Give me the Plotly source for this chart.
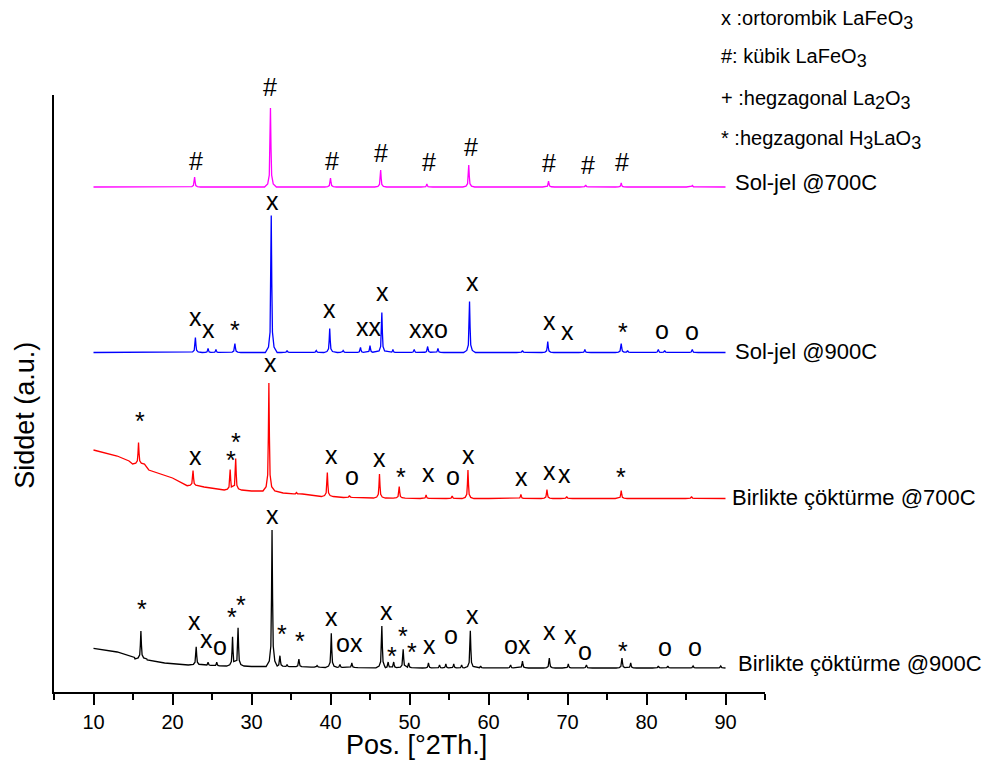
import plotly.graph_objects as go

# ---------------- data ----------------
# Peak positions [deg 2theta], local base level and peak top (relative to trace baseline)
MAG_PK_X = [22.8, 32.4, 40.0, 46.35, 52.2, 57.5, 67.6, 72.3, 76.8, 85.8]
MAG_PK_BASE = [0, 0, 0, 0, 0, 0, 0, 0, 0, 0]
MAG_PK_TOP = [10, 79, 9, 17, 3, 22, 6, 2, 4, 1.5]
MAG_BG_X = [10, 90]
MAG_BG_Y = [0, 0]

BLU_PK_X = [22.9, 24.5, 25.5, 27.9, 32.5, 34.5, 38.2, 39.9, 41.6, 43.8, 45.0, 46.5, 47.9,
            50.6, 52.3, 53.6, 57.6, 64.3, 67.5, 72.2, 76.8, 77.6, 81.5, 82.3, 85.8]
BLU_PK_BASE = [0] * 25
BLU_PK_TOP = [15, 4, 3, 9, 137, 2, 2, 24, 2, 5, 7, 40, 3,
              3, 6, 4, 51, 2, 11, 3, 9, 2, 3, 2, 3]
BLU_BG_X = [10, 90]
BLU_BG_Y = [0, 0]

RED_PK_X = [15.7, 22.6, 27.3, 28.0, 32.2, 35.7, 39.6, 42.4, 46.2, 48.7, 52.1, 55.4, 57.4,
            64.1, 67.4, 69.9, 76.8, 85.7]
RED_PK_BASE = [34.5, 12.8, 8.5, 8.5, 7.5, 4.5, 2, 1, 0.5, 0.3, 0, 0, 0,
               0, 0, 0, 0, 0]
RED_PK_TOP = [56, 28, 29, 40, 115.5, 6, 26, 3, 24.5, 12, 3.5, 2.5, 28.5,
              4, 9, 2, 8, 2]
RED_BG_X = [10, 13, 14.5, 17.0, 20, 24, 27, 30, 34, 40, 46, 60, 90]
RED_BG_Y = [48.5, 42.5, 37.5, 28.5, 20.5, 11.5, 8.5, 7.5, 5.5, 2, 0.5, 0, 0]

BLK_PK_X = [16.0, 23.0, 24.5, 25.6, 27.6, 28.3, 32.6, 33.6, 34.5, 36.0, 38.3, 40.1, 41.2,
            42.7, 46.5, 47.3, 48.0, 49.2, 49.9, 52.4, 53.8, 54.6, 55.6, 56.6, 57.7, 59.0,
            62.8, 64.3, 67.7, 70.1, 72.4, 76.9, 78.0, 81.5, 82.7, 85.9, 89.4]
BLK_PK_BASE = [9, 3, 2.5, 2, 2, 2, 1.5, 1.5, 1.3, 1, 0.8, 0.5, 0.5,
               0.4, 0.2, 0.2, 0.2, 0.1, 0.1, 0, 0, 0, 0, 0, 0, 0,
               0, 0, 0, 0, 0, 0, 0, 0, 0, 0, 0]
BLK_PK_TOP = [37, 21.3, 5.7, 5.7, 31.3, 40.3, 138, 12.3, 3.5, 9, 2.5, 34.7, 3.5,
              5, 42, 6, 6, 18.7, 5, 5, 3, 4, 4, 3, 37.3, 2,
              3, 7, 10, 4, 3, 10, 5, 2, 2, 2, 2]
BLK_BG_X = [10, 13, 15.2, 16.8, 19, 22, 26, 30, 40, 60, 90]
BLK_BG_Y = [19.7, 16, 10.5, 8, 5, 3, 2, 1.5, 0.5, 0, 0]

# peak labels: text, x [deg], y [axis units]
MAG_LBL = ["#", "#", "#", "#", "#", "#", "#", "#", "#"]
MAG_LBL_X = [23.0, 32.38, 40.19, 46.35, 52.45, 57.77, 67.62, 72.61, 76.92]
MAG_LBL_Y = [531, 605, 531, 539, 530, 545, 528.7, 527, 530.3]

BLU_LBL = ["x", "x", "*", "x", "x", "xx", "x", "xxo", "x", "x", "x", "*", "o", "o"]
BLU_LBL_X = [22.94, 24.56, 27.88, 32.63, 39.91, 44.92, 46.52, 52.39, 57.92, 67.75, 69.95, 77.05, 81.99, 85.70]
BLU_LBL_Y = [375, 363, 362.5, 491, 383.5, 365, 400, 363, 410, 370.7, 360.7, 359.8, 361.7, 360.7]

RED_LBL = ["*", "x", "*", "*", "x", "x", "o", "x", "*", "x", "o", "x", "x", "x", "x", "*"]
RED_LBL_X = [15.91, 22.88, 27.44, 28.07, 32.38, 40.07, 42.73, 46.22, 48.93, 52.35, 55.47, 57.42,
             64.13, 67.75, 69.65, 76.83]
RED_LBL_Y = [271.5, 236, 232.5, 250.5, 329, 237.3, 215.7, 234, 214.8, 219, 215.7, 237.3,
             214.7, 221.3, 218, 214.8]

BLK_LBL = ["*", "x", "x", "o", "*", "*", "x", "*", "*", "x", "ox", "x", "*", "*", "*", "x",
           "o", "x", "ox", "x", "x", "o", "*", "o", "o"]
BLK_LBL_X = [16.13, 22.79, 24.36, 25.96, 27.53, 28.71, 32.63, 33.86, 36.18, 40.07, 42.36, 47.07,
             47.79, 49.18, 50.36, 52.55, 55.26, 57.92, 63.66, 67.75, 70.37, 72.27, 77.05, 82.28, 86.11]
BLK_LBL_Y = [83.2, 70.7, 53, 45.7, 74.8, 87.2, 177, 58.2, 51.5, 74.7, 49, 81.3,
             36.5, 56.5, 39.8, 47.3, 57.3, 77.3, 47, 60.7, 57, 41, 41.5, 44.7, 44.7]

SERIES_NAMES = ["Sol-jel @700C", "Sol-jel @900C", "Birlikte çöktürme @700C", "Birlikte çöktürme @900C"]
SUB = '<sub><span style="font-size:18px">%s</span></sub>'
LEGEND_LINES = ["x :ortorombik LaFeO" + SUB % "3", "#: kübik LaFeO" + SUB % "3",
                "+ :hegzagonal La" + SUB % "2" + "O" + SUB % "3",
                "* :hegzagonal H" + SUB % "3" + "LaO" + SUB % "3"]
X_TICKS = [10, 20, 30, 40, 50, 60, 70, 80, 90]

# ---------------- rendering ----------------
Y_MAX = 597
OFFSETS = [505, 339.5, 193.5, 24]
COLORS = ["#FF00FF", "#0000FF", "#FF0000", "#000000"]
PROF_D = [-0.75, -0.35, -0.15, -0.07, 0, 0.07, 0.15, 0.35, 0.75]
PROF_F = [0, 0.04, 0.15, 0.5, 1, 0.5, 0.15, 0.04, 0]


def build(bg_x, bg_y, pk_x, pk_base, pk_top, offset):
    pts = []
    n = len(pk_x)
    for i in range(n):
        lo = (pk_x[i - 1] + pk_x[i]) / 2 if i > 0 else -1e9
        hi = (pk_x[i] + pk_x[i + 1]) / 2 if i < n - 1 else 1e9
        for d, f in zip(PROF_D, PROF_F):
            x = pk_x[i] + d
            if lo < x < hi and bg_x[0] < x < bg_x[-1]:
                pts.append((x, pk_base[i] + f * (pk_top[i] - pk_base[i])))
    for j, (x, y) in enumerate(zip(bg_x, bg_y)):
        if j == 0 or j == len(bg_x) - 1 or min(abs(x - p) for p in pk_x) > 0.75:
            pts.append((x, y))
    pts.sort()
    return [p[0] for p in pts], [p[1] + offset for p in pts]


FONT = "Liberation Sans, Arial, sans-serif"
fig = go.Figure()
series = [
    (MAG_BG_X, MAG_BG_Y, MAG_PK_X, MAG_PK_BASE, MAG_PK_TOP),
    (BLU_BG_X, BLU_BG_Y, BLU_PK_X, BLU_PK_BASE, BLU_PK_TOP),
    (RED_BG_X, RED_BG_Y, RED_PK_X, RED_PK_BASE, RED_PK_TOP),
    (BLK_BG_X, BLK_BG_Y, BLK_PK_X, BLK_PK_BASE, BLK_PK_TOP),
]
for k, s in enumerate(series):
    xs, ys = build(*s, OFFSETS[k])
    fig.add_trace(go.Scatter(x=xs, y=ys, mode="lines", name=SERIES_NAMES[k],
                             line=dict(color=COLORS[k], width=1.3), showlegend=False,
                             hoverinfo="skip"))

ann = []
for lbl, lx, ly in [(MAG_LBL, MAG_LBL_X, MAG_LBL_Y), (BLU_LBL, BLU_LBL_X, BLU_LBL_Y),
                    (RED_LBL, RED_LBL_X, RED_LBL_Y), (BLK_LBL, BLK_LBL_X, BLK_LBL_Y)]:
    for t, x, y in zip(lbl, lx, ly):
        ann.append(dict(x=x, y=y / Y_MAX, yref="paper", text=t, showarrow=False,
                        xanchor="center", yanchor="middle",
                        font=dict(family=FONT, size=25, color="black")))

name_pos = [(91.0, 510), (91.0, 341), (90.63, 195), (91.27, 29)]
for name, (x, y) in zip(SERIES_NAMES, name_pos):
    ann.append(dict(x=x, y=y / Y_MAX, yref="paper", text=name, showarrow=False,
                    xanchor="left", yanchor="middle",
                    font=dict(family=FONT, size=22, color="black")))

leg_y = [672, 634, 592, 552]
for t, y in zip(LEGEND_LINES, leg_y):
    ann.append(dict(xref="paper", yref="paper", x=0.935, y=y / Y_MAX, text=t, showarrow=False,
                    xanchor="left", yanchor="middle",
                    font=dict(family=FONT, size=20, color="black")))

ann.append(dict(xref="paper", yref="paper", x=-0.041, y=0.464, text="Siddet (a.u.)",
                textangle=-90, showarrow=False, xanchor="center", yanchor="middle",
                font=dict(family=FONT, size=27, color="black")))
ann.append(dict(xref="paper", yref="paper", x=0.51, y=-0.0888, text="Pos. [°2Th.]",
                showarrow=False, xanchor="center", yanchor="middle",
                font=dict(family=FONT, size=27, color="black")))

# the page adds an 8 px body margin, so the plot box is placed 8 px up/left
fig.update_layout(
    width=997, height=767,
    margin=dict(l=46, r=240, t=87, b=83, autoexpand=False),
    plot_bgcolor="white", paper_bgcolor="white",
    annotations=ann,
    xaxis=dict(range=[5, 95], tickvals=X_TICKS, ticks="outside", ticklen=11, tickwidth=2,
               tickcolor="black", showline=True, linewidth=2, linecolor="black",
               showgrid=False, zeroline=False, automargin=False,
               tickfont=dict(family=FONT, size=20, color="black"),
               minor=dict(tickvals=[5, 15, 25, 35, 45, 55, 65, 75, 85, 95], ticks="outside",
                          ticklen=6, tickwidth=2, tickcolor="black")),
    yaxis=dict(range=[0, Y_MAX], showline=True, linewidth=2, linecolor="black",
               showticklabels=False, ticks="", showgrid=False, zeroline=False,
               automargin=False),
)

fig.write_html("out.html")
